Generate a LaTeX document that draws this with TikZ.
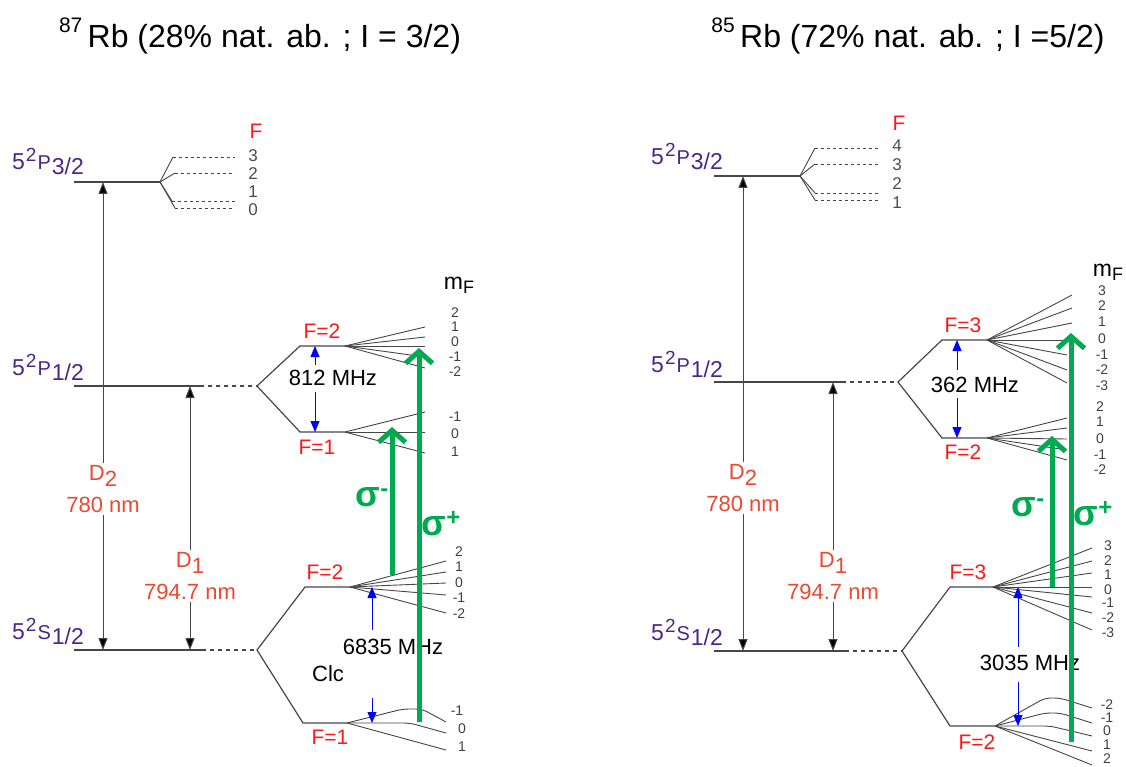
\documentclass[tikz,border=0pt]{standalone}
\usepackage{fontspec}
\setmainfont{Liberation Sans}
\usetikzlibrary{arrows.meta, positioning, calc}

\definecolor{termpurple}{RGB}{78,36,138}
\definecolor{wavered}{RGB}{236,72,48}
\definecolor{fred}{RGB}{255,24,24}
\definecolor{pumpgreen}{RGB}{0,170,80}
\definecolor{lvlgray}{RGB}{70,70,70}

\begin{document}
\begin{tikzpicture}[x=1pt, y=-1pt,
  lvl/.style={draw=lvlgray, line width=1.2pt},
  lvldash/.style={draw=lvlgray, line width=1.1pt, dash pattern=on 4pt off 4pt},
  hfsdash/.style={draw=lvlgray, line width=0.9pt, dash pattern=on 3pt off 3pt},
  fan/.style={draw=lvlgray, line width=0.9pt, rounded corners=6pt},
  trans/.style={draw=lvlgray, line width=1pt, -{Triangle[length=12pt, width=9pt, fill=black]}},
  split/.style={draw=blue, line width=0.8pt, -{Triangle[length=11pt, width=9pt]}},
  pump/.style={draw=pumpgreen, line width=5pt, -{Straight Barb[length=12pt, width=27pt]}},
  title/.style={font=\fontsize{32}{38}\selectfont, anchor=base},
  term/.style={font=\fontsize{23}{26}\selectfont, text=termpurple, anchor=base west, inner sep=0pt},
  flbl/.style={font=\fontsize{21}{24}\selectfont, text=fred, inner sep=0pt},
  wave/.style={font=\fontsize{22}{32}\selectfont, text=wavered, align=center, inner sep=2pt},
  freq/.style={font=\fontsize{22}{26}\selectfont, inner sep=0pt},
  mf/.style={font=\fontsize{14}{15}\selectfont, text=black!75, inner sep=0pt},
  hfs/.style={font=\fontsize{17}{18}\selectfont, text=black!70, inner sep=0pt},
  sig/.style={font=\fontsize{36}{40}\selectfont\bfseries, text=pumpgreen, inner sep=0pt}
]
\useasboundingbox (0,0) rectangle (1126,767);

% titles
\node[title] (t87) at (260,48) {\raisebox{15pt}{\fontsize{21}{22}\selectfont 87}\,Rb (28\% nat. ab. ; I = 3/2)};
\node[title] (t85) at (908,48) {\raisebox{15pt}{\fontsize{21}{22}\selectfont 85}\,Rb (72\% nat. ab. ; I =5/2)};

% ---------- 87Rb ----------
\coordinate (aP3) at (74,182);  \coordinate (aP3e) at (160,182);
\coordinate (aP1) at (74,386);  \coordinate (aP1e) at (200,386); \coordinate (aP1x) at (257,386);
\coordinate (aS1) at (74,650);  \coordinate (aS1e) at (202,650); \coordinate (aS1x) at (257,650);
\coordinate (aPF2) at (300,346); \coordinate (aPF2e) at (345,346);
\coordinate (aPF1) at (300,432); \coordinate (aPF1e) at (345,432);
\coordinate (aSF2) at (305,587); \coordinate (aSF2e) at (350,587);
\coordinate (aSF1) at (303,723); \coordinate (aSF1e) at (347,723);

\node[term] (aP3l) at (12,170) {5\kern1pt\raisebox{8pt}{\fontsize{19}{20}\selectfont 2}\kern1pt{\fontsize{20}{20}\selectfont P}\kern1pt\raisebox{-5pt}{3/2}};
\node[term] (aP1l) at (12,375) {5\kern1pt\raisebox{8pt}{\fontsize{19}{20}\selectfont 2}\kern1pt{\fontsize{20}{20}\selectfont P}\kern1pt\raisebox{-5pt}{1/2}};
\node[term] (aS1l) at (12,639) {5\kern1pt\raisebox{8pt}{\fontsize{19}{20}\selectfont 2}\kern1pt{\fontsize{20}{20}\selectfont S}\kern1pt\raisebox{-5pt}{1/2}};

\draw[lvl] (aP3) -- (aP3e);
\draw[lvl] (aP1) -- (aP1e);
\draw[lvldash] (aP1e) -- (aP1x);
\draw[lvl] (aS1) -- (aS1e);
\draw[lvldash] (aS1e) -- (aS1x);
\draw[lvl] (aPF2e) -- (aPF2) -- (aP1x) -- (aPF1) -- (aPF1e);
\draw[lvl] (aSF2e) -- (aSF2) -- (aS1x) -- (aSF1) -- (aSF1e);

% P3/2 hyperfine
\node[flbl] (aFh) at (256,131) {F};
\foreach \xa/\ya/\yl/\f [count=\i] in {173/157/156/3, 175/173/174/2, 172/201/192/1, 175/208/210/0}{
  \draw[fan] (aP3e) -- (\xa,\ya);
  \draw[hfsdash] (\xa,\ya) -- (235,\ya);
  \node[hfs] (aF\i) at (253,\yl) {\f};
}

% Zeeman fans
\node[font=\fontsize{23}{24}\selectfont, inner sep=0pt] (amF) at (459,285) {m\raisebox{-4pt}{\fontsize{18}{20}\selectfont F}};
\foreach \ye/\yl/\m [count=\i] in {327/313/2, 337/327/1, 346/342/0, 357/357/-1, 368/372/-2}{
  \draw[fan] (aPF2e) -- (425,\ye);
  \node[mf] (amA\i) at (455,\yl) {\m};
}
\foreach \ye/\yl/\m [count=\i] in {412/417/-1, 432/434/0, 453/452/1}{
  \draw[fan] (aPF1e) -- (425,\ye);
  \node[mf] (amB\i) at (455,\yl) {\m};
}
\foreach \ye/\yl/\m [count=\i] in {561/552/2, 572/567/1, 583/583/0, 595/598/-1, 613/614/-2}{
  \draw[fan] (aSF2e) -- (446,\ye);
  \node[mf] (amC\i) at (459,\yl) {\m};
}
\draw[fan] (aSF1e) -- (403,709) -- (422,709) -- (446,722);
\draw[fan] (aSF1e) -- (410,723) -- (446,733);
\draw[fan] (aSF1e) -- (446,750);
\node[mf] (amD1) at (457,711) {-1};
\node[mf] (amD2) at (462,729) {0};
\node[mf] (amD3) at (462,747) {1};

\node[flbl] (aF2p) at (322,331) {F=2};
\node[flbl] (aF1p) at (317,447) {F=1};
\node[flbl] (aF2s) at (325,572) {F=2};
\node[flbl] (aF1s) at (330,737) {F=1};

% optical lines
\node[wave] (aD2) at (103,489) {D\raisebox{-6pt}{2}\\780 nm};
\node[wave] (aD1) at (190,576) {D\raisebox{-6pt}{1}\\794.7 nm};
\coordinate (aD2t) at (103,182); \coordinate (aD2b) at (103,650);
\coordinate (aD1t) at (190,386); \coordinate (aD1b) at (190,650);
\draw[trans] (aD2) -- (aD2t);
\draw[trans] (aD2) -- (aD2b);
\draw[trans] (aD1) -- (aD1t);
\draw[trans] (aD1) -- (aD1b);

% hyperfine splittings
\node[freq] (a812) at (333,378) {812 MHz};
\node[freq] (a6835) at (393,647) {6835 MHz};
\node[freq] (aclc) at (328,674) {Clc};
\coordinate (aBa) at (315,365); \coordinate (aBb) at (315,392);
\coordinate (aBc) at (372,630); \coordinate (aBd) at (372,698);
\draw[split] (aBa) -- (aPF2e -| aBa);
\draw[split] (aBb) -- (aPF1e -| aBb);
\draw[split] (aBc) -- (aSF2e -| aBc);
\draw[split] (aBd) -- (aSF1e -| aBd);

% pumping
\coordinate (aSm0) at (392,575); \coordinate (aSm1) at (392,427);
\coordinate (aSp0) at (419,722); \coordinate (aSp1) at (419,348);
\draw[pump] (aSm0) -- (aSm1);
\draw[pump] (aSp0) -- (aSp1);
\node[sig] (aSigm) at (372,497) {σ\raisebox{10pt}{\fontsize{24}{24}\selectfont -}};
\node[sig] (aSigp) at (441,524) {σ\raisebox{10pt}{\fontsize{24}{24}\selectfont +}};

% ---------- 85Rb ----------
\coordinate (bP3) at (714,176);  \coordinate (bP3e) at (800,176);
\coordinate (bP1) at (714,382);  \coordinate (bP1e) at (842,382); \coordinate (bP1x) at (898,382);
\coordinate (bS1) at (714,651);  \coordinate (bS1e) at (845,651); \coordinate (bS1x) at (902,651);
\coordinate (bPF3) at (942,340); \coordinate (bPF3e) at (987,340);
\coordinate (bPF2) at (942,438); \coordinate (bPF2e) at (987,438);
\coordinate (bSF3) at (950,587); \coordinate (bSF3e) at (993,587);
\coordinate (bSF2) at (950,726); \coordinate (bSF2e) at (995,726);

\node[term] (bP3l) at (651,165) {5\kern1pt\raisebox{8pt}{\fontsize{19}{20}\selectfont 2}\kern1pt{\fontsize{20}{20}\selectfont P}\kern1pt\raisebox{-5pt}{3/2}};
\node[term] (bP1l) at (651,372) {5\kern1pt\raisebox{8pt}{\fontsize{19}{20}\selectfont 2}\kern1pt{\fontsize{20}{20}\selectfont P}\kern1pt\raisebox{-5pt}{1/2}};
\node[term] (bS1l) at (651,640) {5\kern1pt\raisebox{8pt}{\fontsize{19}{20}\selectfont 2}\kern1pt{\fontsize{20}{20}\selectfont S}\kern1pt\raisebox{-5pt}{1/2}};

\draw[lvl] (bP3) -- (bP3e);
\draw[lvl] (bP1) -- (bP1e);
\draw[lvldash] (bP1e) -- (bP1x);
\draw[lvl] (bS1) -- (bS1e);
\draw[lvldash] (bS1e) -- (bS1x);
\draw[lvl] (bPF3e) -- (bPF3) -- (bP1x) -- (bPF2) -- (bPF2e);
\draw[lvl] (bSF3e) -- (bSF3) -- (bS1x) -- (bSF2) -- (bSF2e);

% P3/2 hyperfine
\node[flbl] (bFh) at (899,123) {F};
\foreach \xa/\ya/\yl/\f [count=\i] in {815/148/146/4, 815/164/165/3, 815/193/184/2, 815/200/203/1}{
  \draw[fan] (bP3e) -- (\xa,\ya);
  \draw[hfsdash] (\xa,\ya) -- (878,\ya);
  \node[hfs] (bF\i) at (897,\yl) {\f};
}

% Zeeman fans
\node[font=\fontsize{23}{24}\selectfont, inner sep=0pt] (bmF) at (1108,272) {m\raisebox{-4pt}{\fontsize{18}{20}\selectfont F}};
\foreach \xe/\ye/\yl/\m [count=\i] in {1072/295/291/3, 1072/308/306/2, 1072/323/322/1, 1072/340/339/0, 1067/355/355/-1, 1067/370/370/-2, 1067/383/386/-3}{
  \draw[fan] (bPF3e) -- (\xe,\ye);
  \node[mf] (bmA\i) at (1102,\yl) {\m};
}
\foreach \ye/\yl/\m [count=\i] in {418/407/2, 428/422/1, 439/439/0, 450/455/-1, 460/470/-2}{
  \draw[fan] (bPF2e) -- (1067,\ye);
  \node[mf] (bmB\i) at (1100,\yl) {\m};
}
\foreach \ye/\yl/\m [count=\i] in {548/546/3, 561/561/2, 573/575/1, 587/590/0, 597/603/-1, 613/618/-2, 630/633/-3}{
  \draw[fan] (bSF3e) -- (1092,\ye);
  \node[mf] (bmC\i) at (1108,\yl) {\m};
}
\draw[fan] (bSF2e) -- (1045,698) -- (1060,698) -- (1092,708);
\draw[fan] (bSF2e) -- (1045,713) -- (1060,713) -- (1092,723);
\draw[fan] (bSF2e) -- (1050,726) -- (1092,736);
\draw[fan] (bSF2e) -- (1092,751);
\draw[fan] (bSF2e) -- (1092,765);
\foreach \yl/\m [count=\i] in {705/-2, 718/-1, 731/0, 745/1, 759/2}{
  \node[mf] (bmD\i) at (1107,\yl) {\m};
}

\node[flbl] (bF3p) at (963,325) {F=3};
\node[flbl] (bF2p) at (963,452) {F=2};
\node[flbl] (bF3s) at (968,572) {F=3};
\node[flbl] (bF2s) at (977,742) {F=2};

% optical lines
\node[wave] (bD2) at (743,488) {D\raisebox{-6pt}{2}\\780 nm};
\node[wave] (bD1) at (833,576) {D\raisebox{-6pt}{1}\\794.7 nm};
\coordinate (bD2t) at (743,176); \coordinate (bD2b) at (743,651);
\coordinate (bD1t) at (833,382); \coordinate (bD1b) at (833,651);
\draw[trans] (bD2) -- (bD2t);
\draw[trans] (bD2) -- (bD2b);
\draw[trans] (bD1) -- (bD1t);
\draw[trans] (bD1) -- (bD1b);

% hyperfine splittings
\node[freq] (b362) at (975,385) {362 MHz};
\node[freq] (b3035) at (1030,663) {3035 MHz};
\coordinate (bBa) at (957,370); \coordinate (bBb) at (957,398);
\coordinate (bBc) at (1018,647); \coordinate (bBd) at (1018,682);
\draw[split] (bBa) -- (bPF3e -| bBa);
\draw[split] (bBb) -- (bPF2e -| bBb);
\draw[split] (bBc) -- (bSF3e -| bBc);
\draw[split] (bBd) -- (bSF2e -| bBd);

% pumping
\coordinate (bSm0) at (1052,587); \coordinate (bSm1) at (1052,436);
\coordinate (bSp0) at (1071,742); \coordinate (bSp1) at (1071,333);
\draw[pump] (bSm0) -- (bSm1);
\draw[pump] (bSp0) -- (bSp1);
\node[sig] (bSigm) at (1028,507) {σ\raisebox{10pt}{\fontsize{24}{24}\selectfont -}};
\node[sig] (bSigp) at (1093,514) {σ\raisebox{10pt}{\fontsize{24}{24}\selectfont +}};
\end{tikzpicture}
\end{document}
